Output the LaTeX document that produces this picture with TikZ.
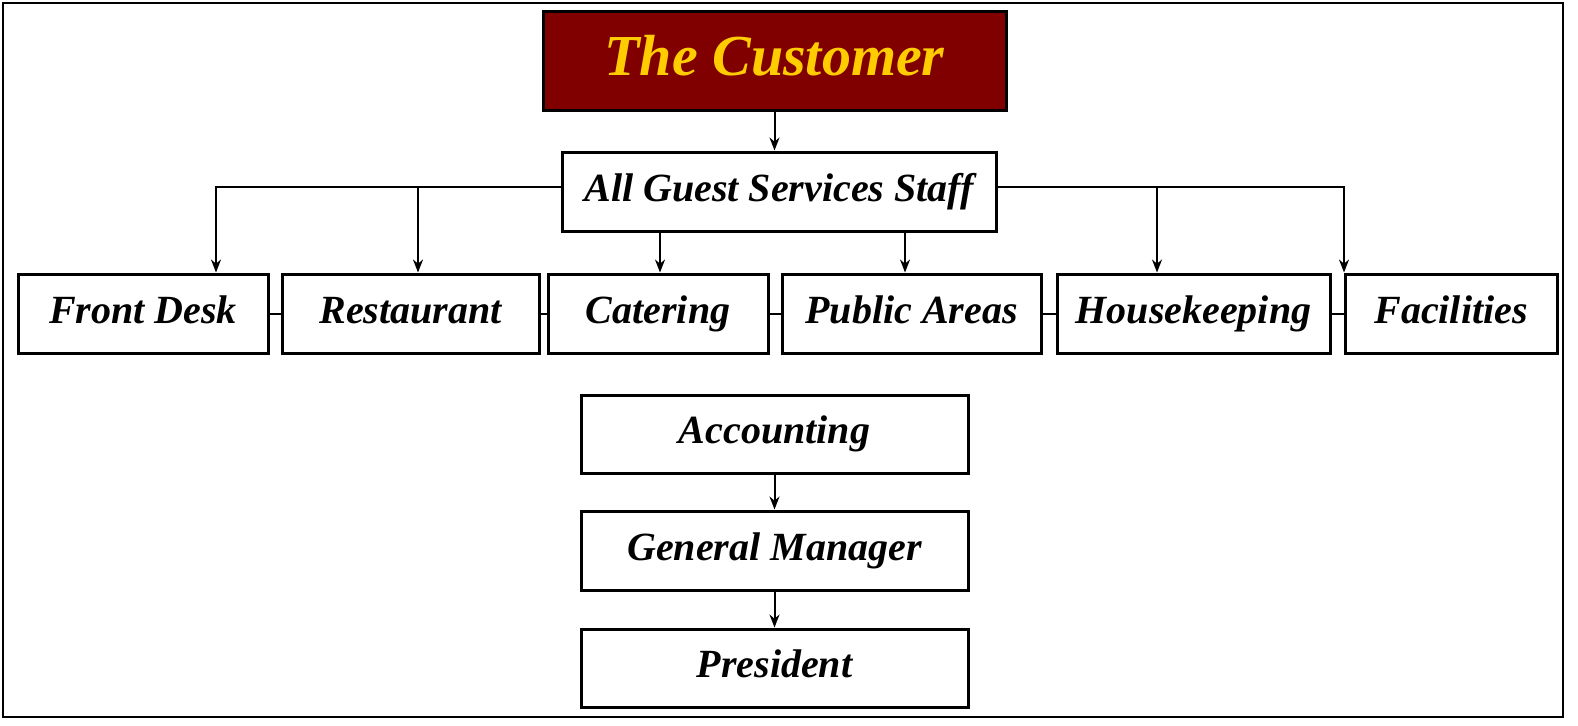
\documentclass[tikz,border=0pt]{standalone}
\usepackage{fontspec}
\setmainfont{Liberation Serif}
\usetikzlibrary{arrows.meta}
\begin{document}
\begin{tikzpicture}[x=1pt,y=-1pt,
 bx/.style={draw,line width=3pt,inner sep=0pt,text height=28pt,text depth=9pt,font=\fontsize{40}{44}\selectfont\bfseries\itshape},
 ar/.style={line width=2pt,-{Stealth[length=13pt,width=10pt]}},
 ln/.style={line width=2pt}]
\useasboundingbox (0,0) rectangle (1578,725);
\draw[line width=2pt] (3,3) rectangle (1563,717);
\definecolor{dred}{HTML}{800000}\definecolor{gold}{HTML}{FFCC00}
\node[bx,fill=dred,text=gold,minimum width=463pt,minimum height=98pt,text height=40pt,text depth=12pt,font=\fontsize{58}{62}\selectfont\bfseries\itshape] (cust) at (774.5,61) {The Customer};
\node[bx,minimum width=434pt,minimum height=79pt] (ags) at (779,191.5) {All Guest Services Staff};
\foreach \n/\a/\b/\t in {fd/18/268/Front Desk,re/282/539/Restaurant,ca/548/768/Catering,pa/782/1041/Public Areas,hk/1057/1330/Housekeeping,fa/1345/1557/Facilities}
 \node[bx,minimum width=\b-\a,minimum height=79pt] (\n) at ({(\a+\b)/2},313.5) {\t};
\node[bx,minimum width=387pt,minimum height=78pt] (acc) at (774.5,434) {Accounting};
\node[bx,minimum width=387pt,minimum height=79pt] (gm) at (774.5,550.5) {General Manager};
\node[bx,minimum width=387pt,minimum height=78pt] (pr) at (774.5,668) {President};
\draw[ar] (cust) -- (ags.north -| cust);
\draw[ar] (acc) -- (gm);
\draw[ar] (gm) -- (pr);
\draw[ar] (ags.west |- 0,187) -| (fd.north -| 216,0);
\draw[ar] (418,187) -- (re.north -| 418,0);
\draw[ar] (ags.east |- 0,187) -| (fa.north -| 1344,0);
\draw[ar] (1157,187) -- (hk.north -| 1157,0);
\draw[ar] (ags.south -| 660,0) -- (ca.north -| 660,0);
\draw[ar] (ags.south -| 905,0) -- (pa.north -| 905,0);
\draw[ln] (fd.east) -- (re.west);
\draw[ln] (re.east) -- (ca.west);
\draw[ln] (ca.east) -- (pa.west);
\draw[ln] (pa.east) -- (hk.west);
\draw[ln] (hk.east) -- (fa.west);
\end{tikzpicture}
\end{document}
